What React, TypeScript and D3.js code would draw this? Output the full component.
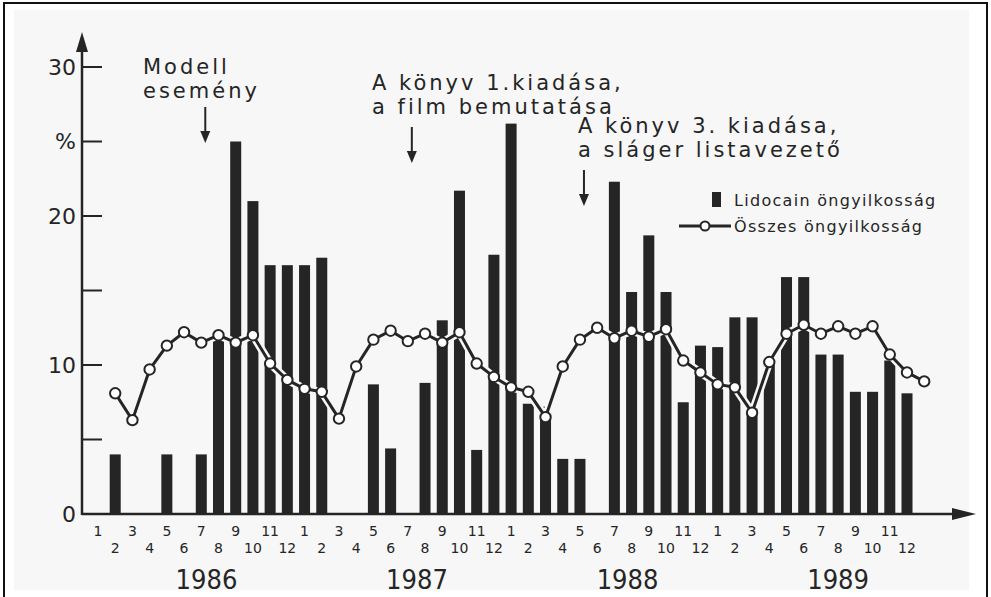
import React, { useEffect, useRef } from "react";
import * as d3 from "d3";

// Lidocain-öngyilkosságok aránya (%) havonta, 1986-1989
const years = ["1986", "1987", "1988", "1989"];
const monthLabels = ["1", "2", "3", "4", "5", "6", "7", "8", "9", "10", "11", "12"];
const lidocain1986 = [0, 4, 0, 0, 4, 0, 4, 12, 25, 21, 16.7, 16.7];
const lidocain1987 = [16.7, 17.2, 0, 0, 8.7, 4.4, 0, 8.8, 13, 21.7, 4.3, 17.4];
const lidocain1988 = [26.2, 7.4, 7.2, 3.7, 3.7, 0, 22.3, 14.9, 18.7, 14.9, 7.5, 11.3];
const lidocain1989 = [11.2, 13.2, 13.2, 10.3, 15.9, 15.9, 10.7, 10.7, 8.2, 8.2, 10.3, 8.1];
// összes öngyilkosság
const osszes1986 = [8.1, 6.3, 9.7, 11.3, 12.2, 11.5, 12.0, 11.5, 12.0, 10.1, 9.0, 8.4];
const osszes1987 = [8.2, 6.4, 9.9, 11.7, 12.3, 11.6, 12.1, 11.5, 12.2, 10.1, 9.2, 8.5];
const osszes1988 = [8.2, 6.5, 9.9, 11.7, 12.5, 11.8, 12.3, 11.9, 12.4, 10.3, 9.5, 8.7];
const osszes1989 = [8.5, 6.8, 10.2, 12.1, 12.7, 12.1, 12.6, 12.1, 12.6, 10.7, 9.5, 8.9];
const yTicks = [0, 5, 10, 15, 20, 25, 30];
const yTickLabels = ["0", "", "10", "", "20", "%", "30"];
const annotations = [
  { month: 7, lines: ["Modell", "esemény"] },
  { month: 19, lines: ["A könyv 1.kiadása,", "a film bemutatása"] },
  { month: 29, lines: ["A könyv 3. kiadása,", "a sláger listavezető"] },
];
const legendLabels = ["Lidocain öngyilkosság", "Összes öngyilkosság"];

const FONT = "'DejaVu Sans', sans-serif";
const INK = "#252525";
const PAPER = "#f7f7f7";

export default function App() {
  const ref = useRef<SVGSVGElement>(null);

  useEffect(() => {
    const bars = [...lidocain1986, ...lidocain1987, ...lidocain1988, ...lidocain1989];
    const total = [...osszes1986, ...osszes1987, ...osszes1988, ...osszes1989];

    const x = d3.scaleLinear().domain([1, 48]).range([98, 907]);
    const y = d3.scaleLinear().domain([0, 30]).range([514, 67]);
    const x0 = 82;

    const svg = d3.select(ref.current);
    svg.selectAll("*").remove();

    // papír + keret
    svg.append("rect").attr("x", 0).attr("y", 0).attr("width", 991).attr("height", 597).attr("fill", "#fff");
    svg.append("rect").attr("x", 14).attr("y", 10).attr("width", 955).attr("height", 580).attr("fill", PAPER);
    svg.append("rect").attr("x", 4).attr("y", 3).attr("width", 983).attr("height", 600)
      .attr("fill", "none").attr("stroke", "#111").attr("stroke-width", 2);

    const g = svg.append("g");

    // oszlopok
    g.selectAll(".bar").data(bars).join("rect").attr("class", "bar")
      .attr("x", (d, i) => x(i + 1) - 5.5)
      .attr("width", 11)
      .attr("y", d => y(d))
      .attr("height", d => y(0) - y(d))
      .attr("fill", INK);

    // tengelyek
    g.append("line").attr("x1", x0).attr("x2", x0).attr("y1", y(0) + 1).attr("y2", 44)
      .attr("stroke", INK).attr("stroke-width", 2.5);
    g.append("path").attr("d", `M${x0},32 L${x0 - 6},52 L${x0 + 6},52 Z`).attr("fill", INK);
    g.append("line").attr("x1", x0).attr("x2", 960).attr("y1", y(0)).attr("y2", y(0))
      .attr("stroke", INK).attr("stroke-width", 2.5);
    g.append("path").attr("d", `M976,${y(0)} L952,${y(0) - 6} L952,${y(0) + 6} Z`).attr("fill", INK);

    // y osztások
    g.selectAll(".ytick").data(yTicks.filter(t => t > 0)).join("line").attr("class", "ytick")
      .attr("x1", x0).attr("x2", x0 + 20)
      .attr("y1", d => y(d)).attr("y2", d => y(d))
      .attr("stroke", INK).attr("stroke-width", 2);
    g.selectAll(".ylab").data(yTicks).join("text").attr("class", "ylab")
      .attr("x", x0 - 6).attr("y", d => y(d))
      .attr("text-anchor", "end").attr("dominant-baseline", "central")
      .attr("font-family", FONT).attr("font-size", 22).attr("fill", INK)
      .text((d, i) => yTickLabels[i]);

    // hónapok és évek
    const months = d3.range(48);
    g.selectAll(".mlab").data(months).join("text").attr("class", "mlab")
      .attr("x", i => x(i + 1))
      .attr("y", i => (i % 2 === 0 ? 536 : 553))
      .attr("text-anchor", "middle")
      .attr("font-family", FONT).attr("font-size", 14).attr("fill", INK)
      .text(i => monthLabels[i % 12]);
    g.selectAll(".year").data(years).join("text").attr("class", "year")
      .attr("x", (d, i) => x(i * 12 + 7.3) + i * 4)
      .attr("y", 589)
      .attr("text-anchor", "middle")
      .attr("font-family", "'DejaVu Sans Condensed', 'DejaVu Sans', sans-serif")
      .attr("font-size", 27).attr("fill", INK)
      .text(d => d);

    // összes öngyilkosság vonal (az eredetin egy hónappal jobbra tolva)
    const line = d3.line<number>().x((d, i) => x(i + 2)).y(d => y(d));
    g.append("path").attr("d", line(total)).attr("fill", "none")
      .attr("stroke", PAPER).attr("stroke-width", 8).attr("stroke-linejoin", "round");
    g.append("path").attr("d", line(total)).attr("fill", "none")
      .attr("stroke", INK).attr("stroke-width", 3).attr("stroke-linejoin", "round");
    g.selectAll(".dot").data(total).join("circle").attr("class", "dot")
      .attr("cx", (d, i) => x(i + 2)).attr("cy", d => y(d)).attr("r", 5.2)
      .attr("fill", "#fff").attr("stroke", INK).attr("stroke-width", 2);

    // megjegyzések
    const annX = [143, 372, 578];
    const annY = [74, 90, 133];
    const arrowTop = [107, 127, 170];
    annotations.forEach((a, k) => {
      const t = g.append("text").attr("font-family", FONT).attr("font-size", 21)
        .attr("fill", INK).attr("letter-spacing", 3);
      a.lines.forEach((s, j) => {
        t.append("tspan").attr("x", annX[k]).attr("y", annY[k] + j * 24).text(s);
      });
      const ax = x(a.month) + 4;
      g.append("line").attr("x1", ax).attr("x2", ax)
        .attr("y1", arrowTop[k]).attr("y2", arrowTop[k] + 28)
        .attr("stroke", INK).attr("stroke-width", 2);
      g.append("path")
        .attr("d", `M${ax - 5},${arrowTop[k] + 24} L${ax + 5},${arrowTop[k] + 24} L${ax},${arrowTop[k] + 36} Z`)
        .attr("fill", INK);
    });

    // jelmagyarázat
    g.append("rect").attr("x", 712).attr("y", 192).attr("width", 9).attr("height", 15).attr("fill", INK);
    g.append("line").attr("x1", 679).attr("x2", 731).attr("y1", 226).attr("y2", 226)
      .attr("stroke", INK).attr("stroke-width", 3);
    g.append("circle").attr("cx", 705).attr("cy", 226).attr("r", 4.5)
      .attr("fill", "#fff").attr("stroke", INK).attr("stroke-width", 2);
    g.selectAll(".leg").data(legendLabels).join("text").attr("class", "leg")
      .attr("x", 734).attr("y", (d, i) => 200 + i * 26)
      .attr("dominant-baseline", "central")
      .attr("font-family", FONT).attr("font-size", 16).attr("letter-spacing", 1.3)
      .attr("fill", INK)
      .text(d => d);
  }, []);

  return (
    <svg ref={ref} width={991} height={597}
      style={{ position: "absolute", left: 0, top: 0, display: "block" }} />
  );
}
